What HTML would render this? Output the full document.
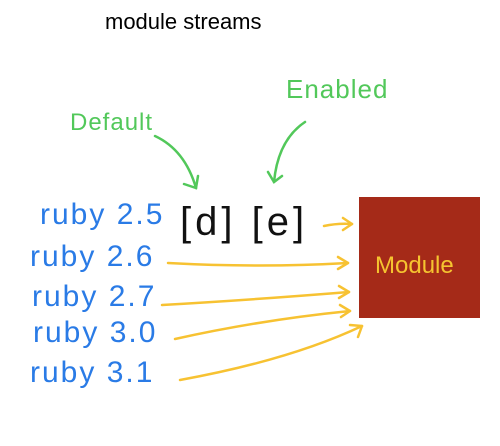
<!DOCTYPE html>
<html><head><style>body{margin:0;background:#fff}svg{display:block}</style></head><body>
<svg width="500" height="446" viewBox="0 0 500 446" xmlns="http://www.w3.org/2000/svg">
<text x="105" y="29" font-family="Liberation Sans, sans-serif" font-size="22" fill="#000">module streams</text>
<g font-family="Liberation Sans, sans-serif" fill="#52c85a">
<text x="70" y="130" font-size="24" letter-spacing="1">Default</text>
<text x="286" y="98" font-size="26" letter-spacing="1">Enabled</text>
</g>
<g fill="none" stroke="#52c85a" stroke-width="2.5" stroke-linecap="round">
<path d="M155 136 Q185 150 196 188"/>
<path d="M184 184 L196 188 L198 176"/>
<path d="M305 122 Q278 140 274 182"/>
<path d="M268 172 L274 182 L282 176"/>
</g>
<g font-family="Liberation Sans, sans-serif" fill="#2a7be6" font-size="30" letter-spacing="2">
<text x="40" y="224">ruby 2.5</text>
<text x="30" y="266">ruby 2.6</text>
<text x="32" y="306">ruby 2.7</text>
<text x="33" y="342">ruby 3.0</text>
<text x="30" y="382">ruby 3.1</text>
</g>
<text x="180" y="235" font-family="Liberation Sans, sans-serif" font-size="40" letter-spacing="4" fill="#111">[d] [e]</text>
<rect x="359" y="197" width="121" height="121" fill="#a52a18"/>
<text x="375" y="273" font-family="Liberation Sans, sans-serif" font-size="24" fill="#f5c430">Module</text>
<g fill="none" stroke="#f7c232" stroke-width="2.5" stroke-linecap="round" stroke-linejoin="round">
<path d="M324 226 Q338 223 352 224"/><path d="M343 218 L352 224 L343 230"/>
<path d="M168 263 Q260 268 348 263"/><path d="M338 257 L348 263 L338 269"/>
<path d="M162 305 Q250 300 349 292"/><path d="M339 286 L349 292 L339 298"/>
<path d="M175 339 Q260 320 350 311"/><path d="M340 305 L350 311 L341 317"/>
<path d="M180 380 Q290 360 362 326"/><path d="M350 325 L362 326 L358 337"/>
</g>
</svg>
</body></html>
